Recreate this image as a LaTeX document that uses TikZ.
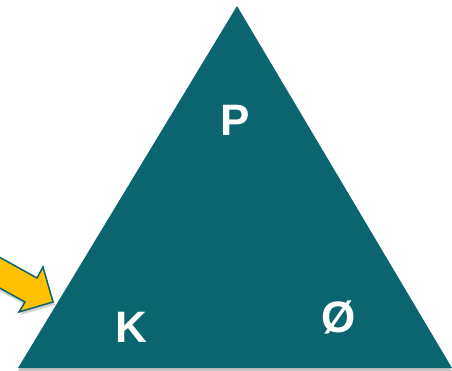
\documentclass[tikz,border=0pt]{standalone}
\usepackage{fontspec}
\setmainfont{Liberation Sans}
\usepackage{tikz}
\usetikzlibrary{positioning}

\definecolor{teal1}{HTML}{0B6570}
\definecolor{gold1}{HTML}{FFC000}

\begin{document}
\begin{tikzpicture}[
    x=1pt, y=-1pt,
    letter/.style={text=white, font=\fontsize{44}{44}\selectfont\bfseries, inner sep=0pt},
    pointer/.style={fill=gold1, draw=teal1, line width=1.5pt, line join=miter}
  ]
    \useasboundingbox (0,0) rectangle (452,371);
    \clip (0,0) rectangle (452,371);

    % corners of the triangle
    \coordinate (top) at (237,6);
    \coordinate (left) at (18,368);
    \coordinate (right) at (452,368);

    \fill[gray!45] ([yshift=-3pt]top) -- ([yshift=-3pt]left) -- ([yshift=-3pt]right) -- cycle;
    \fill[teal1] (top) -- (left) -- (right) -- cycle;

    \node[letter] (p) at (235,120) {P};
    \node[letter] (k) at (131,327) {K};
    \node[letter] (o) at (339,317) {Ø};

    % yellow arrow
    \fill[gray!35] (-5,258) -- (38,281) -- (44,270) -- (55,305) -- (20,315) -- (26,305) -- (-5,289) -- cycle;
    \draw[pointer] (-5,254.7) -- (37,278) -- (43,267) -- (53,302) -- (19,312) -- (25,302) -- (-5,285.4) -- cycle;
  \end{tikzpicture}
\end{document}
